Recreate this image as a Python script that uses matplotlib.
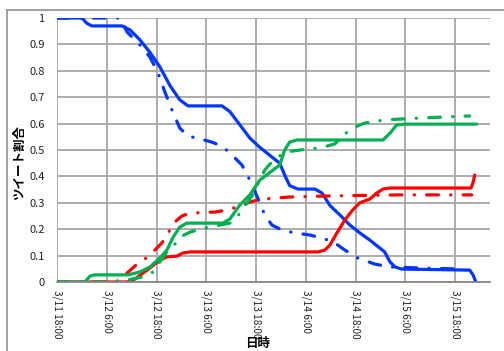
import matplotlib.pyplot as plt
from matplotlib.lines import Line2D

plt.rcParams['font.family'] = ['Noto Sans CJK JP', 'DejaVu Sans']

# hours since 3/11 18:00
tick_hours = [0, 12, 24, 36, 48, 60, 72, 84, 96]
tick_labels = ['3/11 18:00', '3/12 6:00', '3/12 18:00', '3/13 6:00', '3/13 18:00',
               '3/14 6:00', '3/14 18:00', '3/15 6:00', '3/15 18:00']

blue_x = [0, 6.0, 7.2, 8.4, 15.7, 17.6, 20.0, 22.4, 24.8, 27.2, 29.6, 31.6, 39.8, 41.7,
          44.1, 46.5, 48.9, 51.3, 53.7, 54.9, 56.1, 58.1, 62.2, 63.9, 65.8, 68.2, 70.6,
          73.0, 75.4, 77.8, 79.0, 80.3, 81.5, 83.1, 99.5, 100.3, 101.0]
blue_y = [1.0, 1.0, 0.98, 0.97, 0.97, 0.955, 0.917, 0.87, 0.815, 0.745, 0.69, 0.667, 0.667, 0.645,
          0.595, 0.545, 0.51, 0.48, 0.45, 0.405, 0.365, 0.352, 0.352, 0.337, 0.29, 0.254, 0.216,
          0.186, 0.159, 0.129, 0.114, 0.076, 0.057, 0.049, 0.045, 0.027, 0.0]

blue2_x = [0, 15.2, 16.9, 20.0, 22.4, 24.3, 26.0, 27.7, 29.6, 31.6, 34.5, 37.3, 39.8, 42.2,
           44.6, 46.5, 48.4, 50.1, 51.8, 54.2, 57.3, 61.0, 64.6, 67.0, 69.4, 72.5, 76.6,
           80.2, 87.4, 98.3]
blue2_y = [1.0, 1.0, 0.947, 0.898, 0.852, 0.795, 0.72, 0.652, 0.583, 0.553, 0.542, 0.53, 0.515, 0.481,
           0.443, 0.386, 0.318, 0.254, 0.216, 0.197, 0.186, 0.178, 0.163, 0.148, 0.121, 0.091, 0.068,
           0.057, 0.053, 0.049]

red_x = [0, 16.9, 18.8, 21.7, 24.8, 26.5, 28.9, 30.4, 32.1, 62.9, 64.6, 65.8, 67.5, 69.4,
         71.3, 73.0, 75.4, 77.1, 78.6, 80.3, 99.8, 100.3, 100.7]
red_y = [0, 0, 0.011, 0.045, 0.083, 0.095, 0.098, 0.11, 0.114, 0.114, 0.121, 0.14, 0.186, 0.235,
         0.273, 0.3, 0.314, 0.337, 0.352, 0.356, 0.356, 0.375, 0.405]

red2_x = [0, 14.0, 15.2, 16.9, 18.8, 21.2, 23.6, 25.3, 26.8, 28.4, 30.1, 32.1, 38.1, 41.2,
          44.1, 46.5, 49.4, 56.1, 65.8, 82.7, 100.0]
red2_y = [0, 0, 0.008, 0.034, 0.061, 0.087, 0.121, 0.148, 0.186, 0.227, 0.25, 0.261, 0.265, 0.273,
          0.288, 0.303, 0.314, 0.322, 0.326, 0.33, 0.33]

green_x = [0, 6.7, 8.0, 9.2, 17.1, 20.0, 22.4, 24.8, 26.5, 28.0, 29.6, 31.3, 40.0, 41.7,
           44.1, 46.5, 48.9, 53.7, 54.9, 56.1, 57.8, 78.6, 80.3, 81.9, 83.9, 101.2]
green_y = [0, 0, 0.023, 0.027, 0.027, 0.038, 0.057, 0.091, 0.121, 0.17, 0.208, 0.223, 0.223, 0.239,
           0.292, 0.33, 0.386, 0.443, 0.5, 0.53, 0.538, 0.538, 0.564, 0.595, 0.598, 0.598]

green2_x = [0, 12.8, 15.2, 18.1, 20.5, 22.9, 24.8, 26.5, 28.0, 30.1, 32.1, 34.5, 38.1, 41.7,
            43.4, 45.3, 47.0, 48.9, 50.1, 51.8, 54.9, 58.6, 63.4, 67.0, 69.4, 71.8, 74.2,
            79.0, 87.5, 99.5]
green2_y = [0, 0, 0.004, 0.011, 0.019, 0.034, 0.076, 0.114, 0.136, 0.174, 0.189, 0.2, 0.212, 0.223,
            0.246, 0.288, 0.326, 0.386, 0.424, 0.455, 0.492, 0.5, 0.508, 0.523, 0.561, 0.587, 0.602,
            0.614, 0.621, 0.629]

BLUE = '#0036ff'
RED = '#ff0000'
GREEN = '#00b050'
dashdot = (0, (3.7, 3.8, 0.1, 3.8))

fig = plt.figure(figsize=(5.04, 3.51), dpi=100)
ax = fig.add_axes([57 / 504, 69 / 351, 433 / 504, 264 / 351])

lw = 2.3
ax.plot(blue_x, blue_y, color=BLUE, lw=lw, solid_capstyle='round', solid_joinstyle='round')
ax.plot(blue2_x, blue2_y, color=BLUE, lw=lw, linestyle=dashdot, dash_capstyle='round')
ax.plot(red_x, red_y, color=RED, lw=lw, solid_capstyle='round', solid_joinstyle='round')
ax.plot(red2_x, red2_y, color=RED, lw=lw, linestyle=dashdot, dash_capstyle='round')
ax.plot(green_x, green_y, color=GREEN, lw=lw, solid_capstyle='round', solid_joinstyle='round')
ax.plot(green2_x, green2_y, color=GREEN, lw=lw, linestyle=dashdot, dash_capstyle='round')

ax.set_xlim(0, 104.4)
ax.set_ylim(0, 1)
ax.set_yticks([i / 10 for i in range(11)])
ax.set_yticklabels(['0', '0.1', '0.2', '0.3', '0.4', '0.5', '0.6', '0.7', '0.8', '0.9', '1'])
ax.set_xticks(tick_hours)
ax.set_xticklabels(tick_labels, rotation=270, va='top', ha='center')
ax.tick_params(axis='both', length=0, labelcolor='#222222')
ax.tick_params(axis='x', pad=6, labelsize=7.3)
ax.tick_params(axis='y', pad=9, labelsize=8)
ax.grid(True, color='#a6a6a6', lw=1.3)
ax.set_axisbelow(True)
for side in ['top', 'right', 'left']:
    ax.spines[side].set_visible(False)
ax.spines['bottom'].set_color('#888888')
ax.spines['bottom'].set_linewidth(1.3)

fig.text(258 / 504, 1 - 343 / 351, '日時', fontsize=9, fontweight='bold',
         ha='center', va='center')
fig.text(20 / 504, 1 - 163 / 351, 'ツイート割合', fontsize=9, fontweight='bold',
         ha='center', va='center', rotation=90)

# outer chart frame (only top and left edges fall inside the image)
fig.add_artist(Line2D([7 / 504, 1], [1 - 10 / 351, 1 - 10 / 351], color='#999999', lw=1.3))
fig.add_artist(Line2D([7 / 504, 7 / 504], [0, 1 - 10 / 351], color='#999999', lw=1.3))

fig.savefig('out.png', dpi=100)
